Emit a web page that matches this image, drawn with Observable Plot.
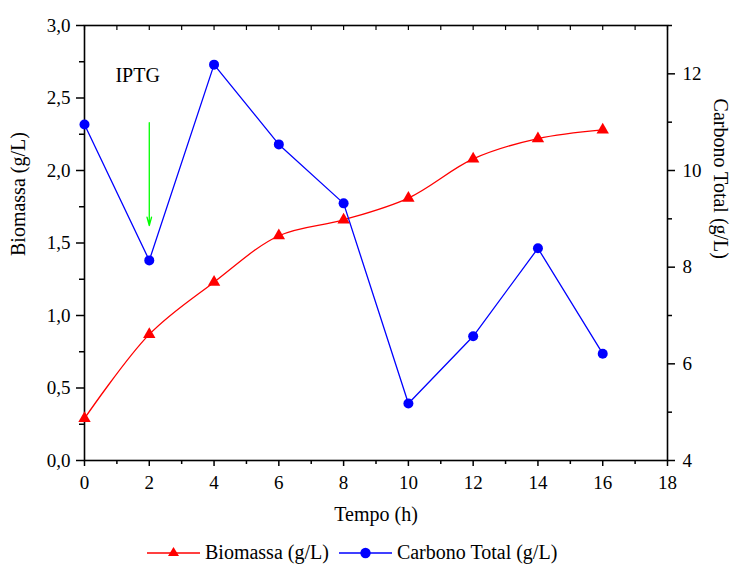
<!DOCTYPE html>
<html>
<head>
<meta charset="utf-8">
<script src="https://cdn.jsdelivr.net/npm/d3@7"></script>
<script src="https://cdn.jsdelivr.net/npm/@observablehq/plot@0.6"></script>
<style>
  body { margin: 0; background: #fff; font-family: "Liberation Serif", "Times New Roman", serif; }
  svg text { font-family: "Liberation Serif", "Times New Roman", serif; }
  #legend { display: flex; align-items: center; height: 25px; padding-left: 147px; font-size: 20px; color: #000; font-family: "Liberation Serif", "Times New Roman", serif; }
  #legend .item { display: flex; align-items: center; }
  #legend svg { margin-right: 5px; }
</style>
</head>
<body>
<div id="chart"></div>
<div id="legend"></div>
<script>
// Data
const tempo = [0, 2, 4, 6, 8, 10, 12, 14, 16];
const biomassa = [0.29, 0.87, 1.23, 1.55, 1.66, 1.81, 2.08, 2.22, 2.28];
const carbono = [10.95, 8.14, 12.19, 10.54, 9.32, 5.18, 6.57, 8.39, 6.21];
const xTicks = [0, 2, 4, 6, 8, 10, 12, 14, 16, 18];
const xMinor = [1, 3, 5, 7, 9, 11, 13, 15, 17];
const xTop = d3.range(0, 19, 1);
const yTicks = [0, 0.5, 1.0, 1.5, 2.0, 2.5, 3.0];
const yMinor = [0.25, 0.75, 1.25, 1.75, 2.25, 2.75];
const cTicks = [4, 6, 8, 10, 12];
const cMinor = [5, 7, 9, 11, 13];
const seriesNames = ["Biomassa (g/L)", "Carbono Total (g/L)"];
const annotation = {label: "IPTG", t: 1.64, v: 2.655, arrowT: 2, arrowFrom: 2.33, arrowTo: 1.62};

// map right-axis (carbono 4..13) onto left scale (0..3)
const toLeft = c => (c - 4) / 3;
const fmtComma = d => d3.format(".1f")(d).replace(".", ",");
const none = () => "";
const FF = "Liberation Serif";

const bioData = tempo.map((t, i) => ({t, v: biomassa[i]}));
const carbData = tempo.map((t, i) => ({t, v: toLeft(carbono[i])}));

const chart = Plot.plot({
  width: 731,
  height: 540,
  marginLeft: 84,
  marginRight: 64,
  marginTop: 25,
  marginBottom: 80,
  style: {fontFamily: FF, fontSize: "19px", color: "#000", background: "#fff"},
  x: {domain: [0, 18]},
  y: {domain: [0, 3]},
  marks: [
    Plot.frame({stroke: "#000", strokeWidth: 1.6}),
    // bottom axis
    Plot.axisX(xTicks, {anchor: "bottom", tickSize: 6, tickPadding: 9, tickFormat: d => String(d), label: null, fontSize: 19, fontFamily: FF, strokeWidth: 1.5}),
    Plot.axisX(xMinor, {anchor: "bottom", tickSize: 4, tickFormat: none, label: null, strokeWidth: 1.5}),
    // top ticks (inward)
    Plot.axisX(xTop, {anchor: "top", tickSize: -4, tickFormat: none, label: null, strokeWidth: 1.2}),
    // left axis
    Plot.axisY(yTicks, {anchor: "left", tickSize: 8, tickPadding: 6, tickFormat: fmtComma, label: null, fontSize: 19, fontFamily: FF, strokeWidth: 1.5}),
    Plot.axisY(yMinor, {anchor: "left", tickSize: 5, tickFormat: none, label: null, strokeWidth: 1.5}),
    // right axis (carbono)
    Plot.axisY(cTicks.map(toLeft), {anchor: "right", tickSize: 7, tickPadding: 8, tickFormat: d => String(Math.round(d * 3 + 4)), label: null, fontSize: 19, fontFamily: FF, strokeWidth: 1.5}),
    Plot.axisY(cMinor.map(toLeft), {anchor: "right", tickSize: 4, tickFormat: none, label: null, strokeWidth: 1.5}),
    // axis titles
    Plot.text([seriesNames[0]], {frameAnchor: "left", dx: -66, dy: 13, rotate: -90, fontSize: 20, fontFamily: FF, fill: "#000"}),
    Plot.text([seriesNames[1]], {frameAnchor: "right", dx: 53, dy: 16, rotate: 90, fontSize: 20, fontFamily: FF, fill: "#000"}),
    Plot.text(["Tempo (h)"], {frameAnchor: "bottom", dy: 60, fontSize: 20, fontFamily: FF, fill: "#000"}),
    // series
    Plot.line(bioData, {x: "t", y: "v", curve: "catmull-rom", stroke: "#ff0000", strokeWidth: 1.3}),
    Plot.line(carbData, {x: "t", y: "v", stroke: "#0000ff", strokeWidth: 1.3}),
    Plot.dot(bioData, {x: "t", y: "v", symbol: "triangle", r: 4.6, fill: "#ff0000", stroke: "none"}),
    Plot.dot(carbData, {x: "t", y: "v", symbol: "circle", r: 5, fill: "#0000ff", stroke: "none"}),
    // annotation
    Plot.text([annotation], {x: "t", y: "v", text: "label", fontSize: 20, fontFamily: FF, fill: "#000"}),
    Plot.arrow([annotation], {x1: "arrowT", x2: "arrowT", y1: "arrowFrom", y2: "arrowTo", stroke: "#00ff00", strokeWidth: 1.3, headLength: 10, headAngle: 30})
  ]
});
document.getElementById("chart").appendChild(chart);

// legend
const legend = document.getElementById("legend");
const specs = [
  {name: seriesNames[0], color: "#ff0000", symbol: "triangle"},
  {name: seriesNames[1], color: "#0000ff", symbol: "circle"}
];
specs.forEach((s, i) => {
  const item = document.createElement("div");
  item.className = "item";
  if (i > 0) item.style.marginLeft = "10px";
  const shape = s.symbol === "triangle"
    ? `<path d="M26.5,4 L32,13 L21,13 Z" fill="${s.color}"/>`
    : `<circle cx="26.5" cy="10" r="5.2" fill="${s.color}"/>`;
  item.innerHTML = `<svg width="53" height="20"><line x1="0" x2="53" y1="10" y2="10" stroke="${s.color}" stroke-width="1.3"/>${shape}</svg><span>${s.name}</span>`;
  legend.appendChild(item);
});
</script>
</body>
</html>
